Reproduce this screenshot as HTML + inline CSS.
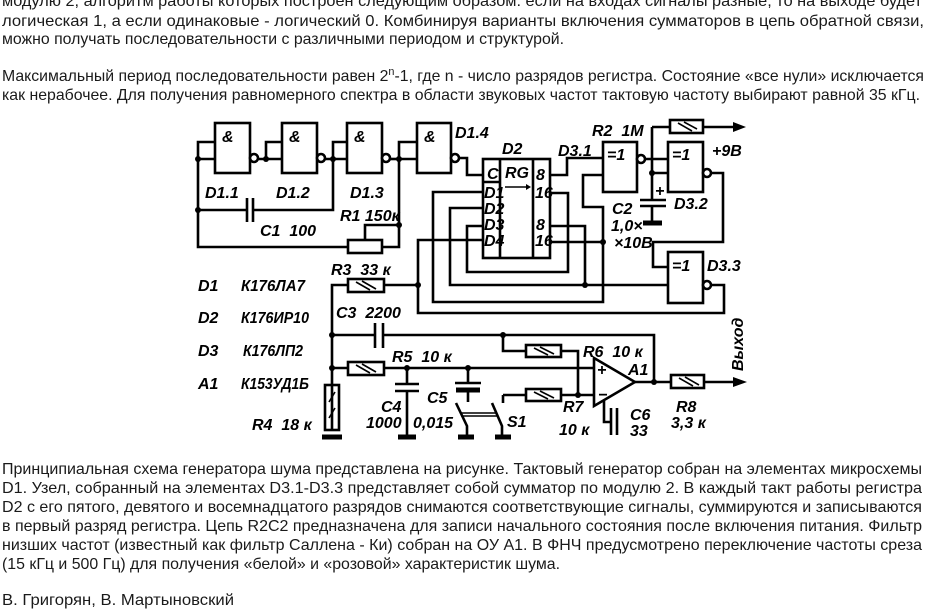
<!DOCTYPE html>
<html><head><meta charset="utf-8"><style>
html,body{margin:0;padding:0;background:#fff;width:932px;height:609px;overflow:hidden}
svg{display:block}
.t{font-family:"Liberation Sans","DejaVu Sans",sans-serif;font-size:16px;fill:#1a1a1a}
.l{font-family:"Liberation Sans","DejaVu Sans",sans-serif;font-size:16px;font-style:italic;font-weight:bold;fill:#000}
.w{stroke:#000;stroke-width:2.6;fill:none}
.b{stroke:#000;stroke-width:2.6;fill:#fff}
.h{stroke:#000;stroke-width:1.6}
.gnd{stroke:#000;stroke-width:5}
</style></head><body>
<svg width="932" height="609" viewBox="0 0 932 609" xmlns="http://www.w3.org/2000/svg">
<!-- top text -->
<text class="t" x="2" y="6" textLength="920" lengthAdjust="spacingAndGlyphs">модулю 2, алгоритм работы которых построен следующим образом: если на входах сигналы разные, то на выходе будет</text>
<text class="t" x="2" y="26" textLength="922" lengthAdjust="spacingAndGlyphs">логическая 1, а если одинаковые - логический 0. Комбинируя варианты включения сумматоров в цепь обратной связи,</text>
<text class="t" x="2" y="44" textLength="562" lengthAdjust="spacingAndGlyphs">можно получать последовательности с различными периодом и структурой.</text>
<text class="t" x="2" y="81" textLength="922" lengthAdjust="spacingAndGlyphs">Максимальный период последовательности равен 2<tspan font-size="11" dy="-6">n</tspan><tspan dy="6">-1, где n - число разрядов регистра. Состояние «все нули» исключается</tspan></text>
<text class="t" x="2" y="100" textLength="918" lengthAdjust="spacingAndGlyphs">как нерабочее. Для получения равномерного спектра в области звуковых частот тактовую частоту выбирают равной 35 кГц.</text>

<!-- bottom text -->
<text class="t" x="2" y="474" textLength="920" lengthAdjust="spacingAndGlyphs">Принципиальная схема генератора шума представлена на рисунке. Тактовый генератор собран на элементах микросхемы</text>
<text class="t" x="2" y="493" textLength="920" lengthAdjust="spacingAndGlyphs">D1. Узел, собранный на элементах D3.1-D3.3 представляет собой сумматор по модулю 2. В каждый такт работы регистра</text>
<text class="t" x="2" y="512" textLength="920" lengthAdjust="spacingAndGlyphs">D2 с его пятого, девятого и восемнадцатого разрядов снимаются соответствующие сигналы, суммируются и записываются</text>
<text class="t" x="2" y="531" textLength="920" lengthAdjust="spacingAndGlyphs">в первый разряд регистра. Цепь R2C2 предназначена для записи начального состояния после включения питания. Фильтр</text>
<text class="t" x="2" y="550" textLength="920" lengthAdjust="spacingAndGlyphs">низших частот (известный как фильтр Саллена - Ки) собран на ОУ А1. В ФНЧ предусмотрено переключение частоты среза</text>
<text class="t" x="2" y="569" textLength="558" lengthAdjust="spacingAndGlyphs">(15 кГц и 500 Гц) для получения «белой» и «розовой» характеристик шума.</text>
<text class="t" x="2" y="605" textLength="232" lengthAdjust="spacingAndGlyphs">В. Григорян, В. Мартыновский</text>

<!-- ===== schematic ===== -->
<g>
<!-- D1 gates -->
<rect class="w" x="215" y="123" width="35" height="50"/>
<rect class="w" x="282" y="123" width="35" height="50"/>
<rect class="w" x="347" y="123" width="35" height="50"/>
<rect class="w" x="417" y="123" width="34" height="50"/>
<text class="l" x="222" y="142">&amp;</text>
<text class="l" x="289" y="142">&amp;</text>
<text class="l" x="354" y="142">&amp;</text>
<text class="l" x="424" y="142">&amp;</text>
<!-- input wiring -->
<path class="w" d="M215 142H198V247H348M382 247H399V142H417M399 159H417"/>
<path class="w" d="M198 159H215"/>
<path class="w" d="M257 159H282M266 159V142H282"/>
<path class="w" d="M322 159H347M333 159V142H347M333 159V210H253M247 210H198"/>
<path class="w" d="M387 159H399"/>
<line class="w" x1="247" y1="198" x2="247" y2="222"/>
<line class="w" x1="253" y1="198" x2="253" y2="222"/>
<rect class="w" x="348" y="240" width="34" height="13"/>
<path class="w" d="M365 240V225H399"/>
<circle cx="198" cy="159" r="3" fill="#000"/><circle cx="198" cy="210" r="3" fill="#000"/>
<circle cx="266" cy="159" r="3" fill="#000"/><circle cx="333" cy="159" r="3" fill="#000"/>
<circle cx="399" cy="159" r="3" fill="#000"/><circle cx="399" cy="225" r="3" fill="#000"/>
<circle class="b" cx="254" cy="158" r="4"/><circle class="b" cx="321" cy="158" r="4"/>
<circle class="b" cx="386" cy="158" r="4"/><circle class="b" cx="455" cy="158" r="4"/>
<path class="w" d="M459 158H467V175H483"/>
<text class="l" x="205" y="198">D1.1</text>
<text class="l" x="276" y="198">D1.2</text>
<text class="l" x="350" y="198">D1.3</text>
<text class="l" x="455" y="138">D1.4</text>
<text class="l" x="340" y="221">R1 150к</text>
<text class="l" x="260" y="236">C1&#160;&#160;100</text>

<!-- D2 -->
<rect class="w" x="483" y="159" width="67" height="99"/>
<path class="w" d="M500 159V258M533 159V258M483 182H500"/>
<text class="l" x="487" y="179" font-size="15">C</text>
<text class="l" x="505" y="178" font-size="14">RG</text>
<path class="h" d="M505 187H526" /><path d="M526 184L531 187L526 190Z"/>
<text class="l" x="484" y="198" font-size="13">D1</text>
<text class="l" x="484" y="214" font-size="13">D2</text>
<text class="l" x="484" y="230" font-size="13">D3</text>
<text class="l" x="484" y="246" font-size="13">D4</text>
<text class="l" x="536" y="180" font-size="14">8</text>
<text class="l" x="535" y="198" font-size="13">16</text>
<text class="l" x="536" y="230" font-size="14">8</text>
<text class="l" x="535" y="246" font-size="13">16</text>
<text class="l" x="502" y="154">D2</text>
<!-- D2 input wiring -->
<path class="w" d="M483 192H433V302H603V207H583V175H603"/>
<path class="w" d="M483 208H450V285H668"/>
<path class="w" d="M483 226H467V272H568V193H550"/>
<path class="w" d="M483 240H418V313H724V285H707"/>
<path class="w" d="M418 285H384M348 285H332V430"/>
<path class="w" d="M550 175H567V158H603"/>
<path class="w" d="M550 226H585V285"/>
<path class="w" d="M550 242H603"/>
<circle cx="418" cy="285" r="3" fill="#000"/><circle cx="585" cy="285" r="3" fill="#000"/>
<circle cx="603" cy="242" r="3" fill="#000"/>

<!-- D3 gates -->
<rect class="w" x="603" y="142" width="34" height="50"/>
<rect class="w" x="668" y="142" width="35" height="50"/>
<rect class="w" x="668" y="252" width="35" height="51"/>
<text class="l" x="607" y="160">=1</text>
<text class="l" x="672" y="160">=1</text>
<text class="l" x="672" y="271">=1</text>
<circle class="b" cx="641" cy="159" r="4"/>
<circle class="b" cx="707" cy="173" r="4"/>
<circle class="b" cx="707" cy="285" r="4"/>
<path class="w" d="M645 159H668M652 173H668M652 127V200M652 207V221"/>
<path class="w" d="M652 127H670M703 127H735"/>
<path d="M733 122L746 127L733 132Z"/>
<rect class="w" x="670" y="120" width="33" height="13"/>
<line class="h" x1="678" y1="123" x2="692" y2="131"/><line class="h" x1="684" y1="122" x2="697" y2="129"/>
<line class="w" x1="640" y1="200" x2="666" y2="200"/>
<line class="w" x1="640" y1="206" x2="666" y2="206"/>
<line class="gnd" x1="643" y1="223" x2="662" y2="223"/>
<text class="l" x="655" y="196" font-size="14">+</text>
<circle cx="652" cy="173" r="3" fill="#000"/>
<path class="w" d="M711 173H723V242H653V267H668"/>
<text class="l" x="592" y="136">R2&#160;&#160;1M</text>
<text class="l" x="558" y="156">D3.1</text>
<text class="l" x="712" y="156">+9B</text>
<text class="l" x="674" y="209">D3.2</text>
<text class="l" x="612" y="214">C2</text>
<text class="l" x="611" y="231">1,0×</text>
<text class="l" x="614" y="248">×10B</text>
<text class="l" x="707" y="271">D3.3</text>

<!-- part list -->
<text class="l" x="198" y="291">D1</text><text class="l" x="241" y="291" textLength="64" lengthAdjust="spacingAndGlyphs">К176ЛА7</text>
<text class="l" x="198" y="323">D2</text><text class="l" x="241" y="323" textLength="68" lengthAdjust="spacingAndGlyphs">К176ИР10</text>
<text class="l" x="198" y="356">D3</text><text class="l" x="243" y="356" textLength="60" lengthAdjust="spacingAndGlyphs">К176ЛП2</text>
<text class="l" x="198" y="389">A1</text><text class="l" x="241" y="389" textLength="68" lengthAdjust="spacingAndGlyphs">К153УД1Б</text>

<!-- filter -->
<rect class="w" x="348" y="279" width="36" height="13"/>
<line class="h" x1="356" y1="282" x2="370" y2="290"/><line class="h" x1="362" y1="281" x2="376" y2="289"/>
<text class="l" x="331" y="275">R3&#160;&#160;33 к</text>
<path class="w" d="M332 335H375M383 335H654V382"/>
<line class="w" x1="375" y1="323" x2="375" y2="348"/><line class="w" x1="383" y1="323" x2="383" y2="348"/>
<text class="l" x="336" y="318">C3&#160;&#160;2200</text>
<path class="w" d="M503 335V351H526M561 351H578V395"/>
<rect class="w" x="526" y="345" width="35" height="12"/>
<line class="h" x1="534" y1="348" x2="548" y2="355"/><line class="h" x1="540" y1="347" x2="554" y2="354"/>
<text class="l" x="583" y="357">R6&#160;&#160;10 к</text>
<path class="w" d="M332 368H348M384 368H594"/>
<rect class="w" x="348" y="362" width="36" height="13"/>
<line class="h" x1="356" y1="365" x2="370" y2="373"/><line class="h" x1="362" y1="364" x2="376" y2="372"/>
<text class="l" x="392" y="362">R5&#160;&#160;10 к</text>
<rect class="w" x="325" y="385" width="14" height="45"/>
<line class="h" x1="329" y1="402" x2="335" y2="392"/><line class="h" x1="329" y1="418" x2="335" y2="408"/>
<line class="gnd" x1="322" y1="437" x2="342" y2="437"/>
<text class="l" x="252" y="430">R4&#160;&#160;18 к</text>
<!-- C4 -->
<path class="w" d="M407 368V384M407 391V437"/>
<line class="w" x1="395" y1="384" x2="419" y2="384"/><line class="w" x1="395" y1="391" x2="419" y2="391"/>
<line class="gnd" x1="398" y1="437" x2="416" y2="437"/>
<!-- C5 -->
<path class="w" d="M468 368V383M468 390V402"/>
<line class="w" x1="455" y1="383" x2="481" y2="383"/><line class="gnd" x1="456" y1="390" x2="480" y2="390"/>
<text class="l" x="381" y="412">C4</text><text class="l" x="366" y="428">1000</text>
<text class="l" x="427" y="403">C5</text><text class="l" x="413" y="428">0,015</text>
<!-- S1 -->
<path class="w" d="M456 403L467 426V437M492 403L502 426V437"/>
<path class="w" d="M503 395V403"/>
<line class="h" x1="461" y1="413" x2="497" y2="413"/><line class="h" x1="461" y1="416" x2="497" y2="416"/>
<line class="gnd" x1="458" y1="437" x2="474" y2="437"/><line class="gnd" x1="495" y1="437" x2="511" y2="437"/>
<text class="l" x="507" y="427">S1</text>
<!-- R7 -->
<path class="w" d="M503 395H526M561 395H594"/>
<rect class="w" x="526" y="389" width="35" height="12"/>
<line class="h" x1="534" y1="392" x2="548" y2="399"/><line class="h" x1="540" y1="391" x2="554" y2="398"/>
<text class="l" x="563" y="412">R7</text><text class="l" x="559" y="435">10 к</text>
<!-- opamp -->
<path class="b" d="M594 358L635 382L594 406Z"/>
<text class="l" x="597" y="375" font-size="15">+</text>
<text class="l" x="598" y="400" font-size="15">−</text>
<text class="l" x="628" y="375">A1</text>
<path class="w" d="M604 401V422H611"/>
<line class="w" x1="611" y1="408" x2="611" y2="435"/><line class="w" x1="617" y1="408" x2="617" y2="435"/>
<text class="l" x="630" y="420">C6</text><text class="l" x="630" y="436">33</text>
<path class="w" d="M635 382H671M704 382H735"/>
<path d="M733 377L747 382L733 387Z"/>
<rect class="w" x="671" y="375" width="33" height="13"/>
<line class="h" x1="679" y1="378" x2="693" y2="386"/><line class="h" x1="685" y1="377" x2="699" y2="385"/>
<text class="l" x="676" y="412">R8</text><text class="l" x="671" y="428">3,3 к</text>
<text class="l" transform="translate(743,371) rotate(-90)">Выход</text>
<circle cx="332" cy="335" r="3" fill="#000"/><circle cx="332" cy="368" r="3" fill="#000"/>
<circle cx="503" cy="335" r="3" fill="#000"/><circle cx="407" cy="368" r="3" fill="#000"/>
<circle cx="468" cy="368" r="3" fill="#000"/><circle cx="578" cy="395" r="3" fill="#000"/>
<circle cx="654" cy="382" r="3" fill="#000"/>
</g>
</svg>
</body></html>
